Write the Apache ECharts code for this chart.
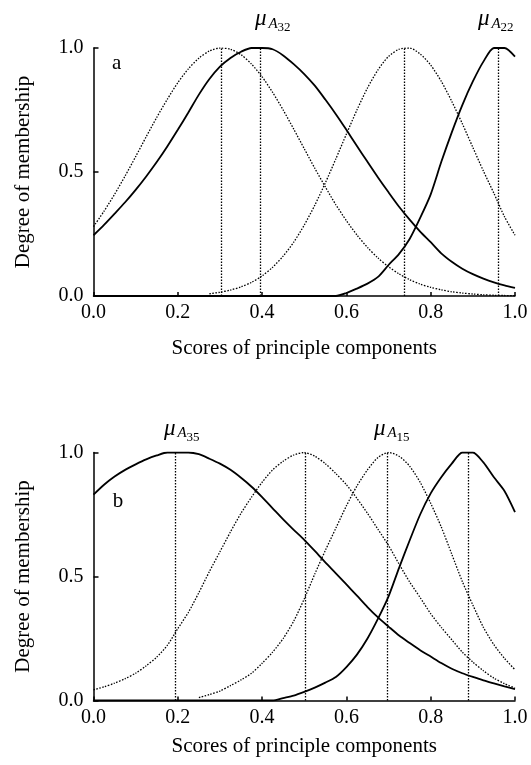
<!DOCTYPE html>
<html><head><meta charset="utf-8">
<script src="https://cdn.jsdelivr.net/npm/echarts@6/dist/echarts.min.js"></script>
<style>html,body{margin:0;padding:0;background:#fff}#c{width:531px;height:765px}</style>
</head><body><div id="c"></div>
<script>
// x positions (scores of principle components)
const xs = [0,0.025,0.05,0.075,0.1,0.125,0.15,0.175,0.2,0.225,0.25,0.275,0.3,0.325,0.35,0.375,0.4,0.425,0.45,0.475,0.5,
  0.525,0.55,0.575,0.6,0.625,0.65,0.675,0.7,0.725,0.75,0.775,0.8,0.825,0.85,0.875,0.9,0.925,0.95,0.975,1.0];
const xTicks = ['0.0','0.2','0.4','0.6','0.8','1.0'];
const yTicks = ['0.0','0.5','1.0'];

// Panel a
const aDotted1 = [.28,.342,.41,.484,.562,.642,.72,.793,.86,.916,.959,.988,1.0,.995,.973,.935,.884,.821,.75,.673,.594,.515,.44,.368,.304,.246,.196,.153,.118,.089,.066,.048,.035,.025,.017,.012,.008,.005,.003,.002,.001];
const aSolidA32 = [.245,.287,.332,.378,.428,.482,.54,.603,.67,.74,.812,.875,.925,.96,.985,1.0,1.0,.995,.97,.935,.895,.848,.792,.733,.67,.605,.541,.478,.418,.36,.308,.26,.217,.172,.138,.11,.088,.07,.055,.043,.033];
const aDotted2 = [null,null,null,null,null,null,null,null,null,null,null,.009,.015,.024,.037,.055,.081,.116,.161,.217,.286,.366,.456,.553,.653,.75,.839,.912,.966,.995,1.0,.976,.931,.866,.785,.695,.599,.504,.414,.32,.245];
const aSolidA22 = [0,0,0,0,0,0,0,0,0,0,0,0,0,0,0,0,0,0,0,0,0,0,0,0,.012,.03,.05,.077,.125,.17,.23,.315,.41,.54,.66,.77,.865,.945,1.0,1.0,.965];
const aPeaks = [0.304, 0.395, 0.738, 0.961];

// Panel b
const bSolidA35 = [.83,.87,.903,.93,.952,.972,.988,1.0,1.0,1.0,.993,.975,.955,.93,.898,.862,.82,.775,.73,.688,.648,.603,.557,.513,.468,.423,.377,.335,.298,.262,.232,.203,.177,.151,.128,.11,.095,.081,.069,.057,.046];
const bDotted1 = [.043,.055,.07,.088,.11,.14,.175,.222,.29,.355,.435,.52,.60,.68,.755,.82,.88,.93,.965,.99,1.0,.985,.955,.915,.87,.815,.755,.69,.625,.55,.478,.415,.35,.295,.245,.195,.155,.12,.09,.068,.05];
const bDottedA15 = [null,null,null,null,null,null,null,null,null,null,.012,.024,.038,.06,.083,.11,.15,.195,.25,.32,.41,.51,.605,.695,.785,.865,.93,.98,1.0,.985,.945,.88,.795,.7,.59,.48,.385,.295,.225,.17,.124];
const bSolid2 = [0,0,0,0,0,0,0,0,0,0,0,0,0,0,0,0,0,0,.01,.02,.035,.052,.072,.095,.135,.185,.25,.33,.42,.535,.645,.75,.835,.9,.955,1.0,1.0,.96,.9,.845,.76];
const bPeaks = [0.195, 0.502, 0.696, 0.89];

const FONT = '"Liberation Serif", "Times New Roman", serif';
const dotStyle = {color:'#000', width:1.3, type:[1.5,1.5]};

function pts(ys){ const out=[]; xs.forEach((x,i)=>{ if(ys[i]!==null) out.push([x,ys[i]]); }); return out; }
function mk(ys, g, dotted, peak){
  return {
    type:'line', xAxisIndex:g, yAxisIndex:g, data:pts(ys), symbol:'none', showSymbol:false,
    smooth:0.25, animation:false, silent:true, z: dotted?2:3,
    lineStyle: dotted ? dotStyle : {color:'#000', width:1.8},
    markLine:{silent:true, symbol:'none', label:{show:false}, animation:false,
      lineStyle: dotStyle, emphasis:{disabled:true},
      data:[[{coord:[peak,0]},{coord:[peak,1]}]]}
  };
}
function xAx(g, gap){
  return {gridIndex:g, type:'value', min:0, max:1, interval:0.2,
    axisLine:{show:true, onZero:false, lineStyle:{color:'#000', width:1.5}},
    axisTick:{show:true, inside:true, length:4, lineStyle:{color:'#000', width:1.5}},
    axisLabel:{fontFamily:FONT, fontSize:20, color:'#000', margin:7, formatter:v=>xTicks[Math.round(v/0.2)]},
    splitLine:{show:false},
    name:'Scores of principle components', nameLocation:'middle', nameGap:gap,
    nameTextStyle:{fontFamily:FONT, fontSize:21, color:'#000'}};
}
function yAx(g){
  return {gridIndex:g, type:'value', min:0, max:1, interval:0.5,
    axisLine:{show:true, onZero:false, lineStyle:{color:'#000', width:1.5}},
    axisTick:{show:true, inside:true, length:5, lineStyle:{color:'#000', width:1.5}},
    axisLabel:{fontFamily:FONT, fontSize:20, color:'#000', margin:10, formatter:v=>yTicks[Math.round(v/0.5)]},
    splitLine:{show:false},
    name:'Degree of membership', nameLocation:'middle', nameGap:60, nameRotate:90,
    nameTextStyle:{fontFamily:FONT, fontSize:21, color:'#000'}};
}
function mu(x, y, sub){
  return [
    {type:'text', x:x, y:y, silent:true, style:{text:'\u03bc', font:'italic 23px '+FONT, fill:'#000', align:'left', verticalAlign:'middle'}},
    {type:'text', x:x+13.5, y:y+5, silent:true, style:{text:'A', font:'italic 15px '+FONT, fill:'#000', align:'left', verticalAlign:'middle'}},
    {type:'text', x:x+22.5, y:y+9, silent:true, style:{text:sub, font:'13px '+FONT, fill:'#000', align:'left', verticalAlign:'middle'}}
  ];
}

const chart = echarts.init(document.getElementById('c'), null, {renderer:'canvas'});
chart.setOption({
  backgroundColor:'#fff',
  animation:false,
  grid:[
    {left:93.5, right:16, top:48, height:248},
    {left:93.5, right:16, top:452.5, height:248}
  ],
  xAxis:[xAx(0, 42), xAx(1, 35)],
  yAxis:[yAx(0), yAx(1)],
  series:[
    mk(aDotted1, 0, true, aPeaks[0]),
    mk(aSolidA32, 0, false, aPeaks[1]),
    mk(aDotted2, 0, true, aPeaks[2]),
    mk(aSolidA22, 0, false, aPeaks[3]),
    mk(bSolidA35, 1, false, bPeaks[0]),
    mk(bDotted1, 1, true, bPeaks[1]),
    mk(bDottedA15, 1, true, bPeaks[2]),
    mk(bSolid2, 1, false, bPeaks[3])
  ],
  graphic:[].concat(
    mu(255, 19, '32'), mu(478, 19, '22'),
    mu(164, 428.5, '35'), mu(374, 428.5, '15'),
    [{type:'text', x:116.7, y:63, silent:true, style:{text:'a', font:'21px '+FONT, fill:'#000', align:'center', verticalAlign:'middle'}},
     {type:'text', x:118, y:501, silent:true, style:{text:'b', font:'21px '+FONT, fill:'#000', align:'center', verticalAlign:'middle'}}]
  )
});
</script></body></html>
